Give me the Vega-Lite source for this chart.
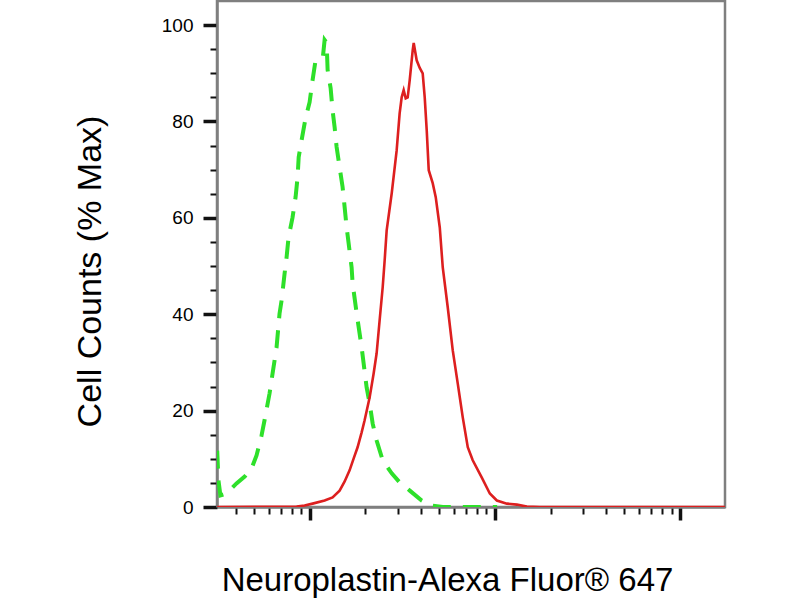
{
  "$schema": "https://vega.github.io/schema/vega-lite/v6.json",
  "width": 508,
  "height": 506,
  "autosize": "none",
  "padding": {"left": 217, "top": 1, "right": 75, "bottom": 93},
  "background": "white",
  "data": {
    "values": [
      {"series": "isotype", "x": 3.17, "y": 11.7},
      {"series": "isotype", "x": 3.22, "y": 5.5},
      {"series": "isotype", "x": 3.30, "y": 2.4},
      {"series": "isotype", "x": 3.56, "y": 2.8},
      {"series": "isotype", "x": 4.03, "y": 4.9},
      {"series": "isotype", "x": 4.46, "y": 6.3},
      {"series": "isotype", "x": 4.86, "y": 8.0},
      {"series": "isotype", "x": 5.17, "y": 10.7},
      {"series": "isotype", "x": 5.50, "y": 14.8},
      {"series": "isotype", "x": 5.71, "y": 18.0},
      {"series": "isotype", "x": 6.08, "y": 23.6},
      {"series": "isotype", "x": 6.31, "y": 27.7},
      {"series": "isotype", "x": 6.63, "y": 33.1},
      {"series": "isotype", "x": 6.88, "y": 40.1},
      {"series": "isotype", "x": 7.06, "y": 42.9},
      {"series": "isotype", "x": 7.33, "y": 48.5},
      {"series": "isotype", "x": 7.51, "y": 51.8},
      {"series": "isotype", "x": 7.70, "y": 56.0},
      {"series": "isotype", "x": 8.09, "y": 60.1},
      {"series": "isotype", "x": 8.40, "y": 64.3},
      {"series": "isotype", "x": 8.61, "y": 68.4},
      {"series": "isotype", "x": 8.73, "y": 72.6},
      {"series": "isotype", "x": 9.05, "y": 76.1},
      {"series": "isotype", "x": 9.51, "y": 80.7},
      {"series": "isotype", "x": 10.0, "y": 84.0},
      {"series": "isotype", "x": 10.38, "y": 88.6},
      {"series": "isotype", "x": 10.77, "y": 92.7},
      {"series": "isotype", "x": 11.8, "y": 93.4},
      {"series": "isotype", "x": 12.05, "y": 96.9},
      {"series": "isotype", "x": 12.36, "y": 96.3},
      {"series": "isotype", "x": 12.51, "y": 90.7},
      {"series": "isotype", "x": 12.99, "y": 86.9},
      {"series": "isotype", "x": 13.31, "y": 82.3},
      {"series": "isotype", "x": 13.65, "y": 78.8},
      {"series": "isotype", "x": 13.99, "y": 74.7},
      {"series": "isotype", "x": 14.52, "y": 70.5},
      {"series": "isotype", "x": 15.07, "y": 66.4},
      {"series": "isotype", "x": 15.46, "y": 62.2},
      {"series": "isotype", "x": 15.85, "y": 58.0},
      {"series": "isotype", "x": 16.25, "y": 54.7},
      {"series": "isotype", "x": 16.86, "y": 49.7},
      {"series": "isotype", "x": 17.07, "y": 46.4},
      {"series": "isotype", "x": 17.95, "y": 40.2},
      {"series": "isotype", "x": 19.10, "y": 33.1},
      {"series": "isotype", "x": 19.58, "y": 29.8},
      {"series": "isotype", "x": 20.32, "y": 24.8},
      {"series": "isotype", "x": 21.09, "y": 21.5},
      {"series": "isotype", "x": 21.91, "y": 17.3},
      {"series": "isotype", "x": 23.01, "y": 13.8},
      {"series": "isotype", "x": 24.81, "y": 9.7},
      {"series": "isotype", "x": 27.76, "y": 7.0},
      {"series": "isotype", "x": 30.66, "y": 5.1},
      {"series": "isotype", "x": 34.75, "y": 3.4},
      {"series": "isotype", "x": 40.3, "y": 1.35},
      {"series": "isotype", "x": 45.6, "y": 0.3},
      {"series": "isotype", "x": 52.4, "y": 0},
      {"series": "isotype", "x": 103, "y": 0},
      {"series": "Neuroplastin", "x": 3.17, "y": 0},
      {"series": "Neuroplastin", "x": 8.51, "y": 0.1},
      {"series": "Neuroplastin", "x": 9.39, "y": 0.3},
      {"series": "Neuroplastin", "x": 10.38, "y": 0.7},
      {"series": "Neuroplastin", "x": 12.05, "y": 1.35},
      {"series": "Neuroplastin", "x": 13.31, "y": 2.0},
      {"series": "Neuroplastin", "x": 14.52, "y": 3.4},
      {"series": "Neuroplastin", "x": 15.46, "y": 5.3},
      {"series": "Neuroplastin", "x": 16.44, "y": 7.6},
      {"series": "Neuroplastin", "x": 17.30, "y": 10.1},
      {"series": "Neuroplastin", "x": 18.16, "y": 12.4},
      {"series": "Neuroplastin", "x": 19.10, "y": 15.5},
      {"series": "Neuroplastin", "x": 19.82, "y": 18.0},
      {"series": "Neuroplastin", "x": 21.09, "y": 22.7},
      {"series": "Neuroplastin", "x": 22.17, "y": 27.7},
      {"series": "Neuroplastin", "x": 23.01, "y": 31.9},
      {"series": "Neuroplastin", "x": 23.88, "y": 38.7},
      {"series": "Neuroplastin", "x": 24.81, "y": 45.6},
      {"series": "Neuroplastin", "x": 25.43, "y": 51.2},
      {"series": "Neuroplastin", "x": 26.07, "y": 57.4},
      {"series": "Neuroplastin", "x": 27.76, "y": 65.1},
      {"series": "Neuroplastin", "x": 29.52, "y": 74.0},
      {"series": "Neuroplastin", "x": 30.63, "y": 81.7},
      {"series": "Neuroplastin", "x": 31.42, "y": 85.0},
      {"series": "Neuroplastin", "x": 32.21, "y": 86.5},
      {"series": "Neuroplastin", "x": 33.03, "y": 84.8},
      {"series": "Neuroplastin", "x": 33.86, "y": 85.0},
      {"series": "Neuroplastin", "x": 34.72, "y": 88.6},
      {"series": "Neuroplastin", "x": 36.04, "y": 94.8},
      {"series": "Neuroplastin", "x": 36.49, "y": 96.3},
      {"series": "Neuroplastin", "x": 37.86, "y": 92.7},
      {"series": "Neuroplastin", "x": 39.33, "y": 91.1},
      {"series": "Neuroplastin", "x": 40.80, "y": 90.0},
      {"series": "Neuroplastin", "x": 41.84, "y": 85.0},
      {"series": "Neuroplastin", "x": 42.89, "y": 78.2},
      {"series": "Neuroplastin", "x": 43.98, "y": 69.9},
      {"series": "Neuroplastin", "x": 46.21, "y": 67.2},
      {"series": "Neuroplastin", "x": 47.98, "y": 64.3},
      {"series": "Neuroplastin", "x": 50.45, "y": 58.0},
      {"series": "Neuroplastin", "x": 52.36, "y": 49.7},
      {"series": "Neuroplastin", "x": 55.72, "y": 41.4},
      {"series": "Neuroplastin", "x": 59.29, "y": 32.5},
      {"series": "Neuroplastin", "x": 63.10, "y": 25.6},
      {"series": "Neuroplastin", "x": 67.14, "y": 18.6},
      {"series": "Neuroplastin", "x": 71.46, "y": 12.4},
      {"series": "Neuroplastin", "x": 76.0, "y": 9.7},
      {"series": "Neuroplastin", "x": 85.1, "y": 6.1},
      {"series": "Neuroplastin", "x": 94.0, "y": 2.8},
      {"series": "Neuroplastin", "x": 102.6, "y": 1.35},
      {"series": "Neuroplastin", "x": 116.2, "y": 0.7},
      {"series": "Neuroplastin", "x": 131.6, "y": 0.5},
      {"series": "Neuroplastin", "x": 148.9, "y": 0.1},
      {"series": "Neuroplastin", "x": 175, "y": 0},
      {"series": "Neuroplastin", "x": 1750, "y": 0}
    ]
  },
  "encoding": {
    "x": {
      "field": "x",
      "type": "quantitative",
      "scale": {"type": "log", "domain": [3.162, 1750], "nice": false},
      "axis": {
        "values": [4, 5, 6, 7, 8, 9, 10, 20, 30, 40, 50, 60, 70, 80, 90, 100, 200, 300, 400, 500, 600, 700, 800, 900, 1000],
        "labels": false,
        "grid": false,
        "domainColor": "#7f7f7f",
        "domainWidth": 2.5,
        "tickColor": "#111111",
        "tickSize": {"condition": {"test": "datum.value == 10 || datum.value == 100 || datum.value == 1000", "value": 13}, "value": 7},
        "tickWidth": {"condition": {"test": "datum.value == 10 || datum.value == 100 || datum.value == 1000", "value": 3.5}, "value": 2},
        "title": "Neuroplastin-Alexa Fluor® 647",
        "titleFont": "Liberation Sans",
        "titleFontSize": 33,
        "titleFontWeight": "normal",
        "titleColor": "#000000",
        "titleAlign": "center",
        "titleBaseline": "alphabetic",
        "titleX": 230,
        "titleY": 83
      }
    },
    "y": {
      "field": "y",
      "type": "quantitative",
      "scale": {"domain": [0, 105], "nice": false},
      "axis": {
        "values": [0, 5, 10, 15, 20, 25, 30, 35, 40, 45, 50, 55, 60, 65, 70, 75, 80, 85, 90, 95, 100],
        "labelExpr": "datum.value % 20 === 0 ? datum.label : ''",
        "grid": false,
        "domainColor": "#7f7f7f",
        "domainWidth": 2.5,
        "tickColor": "#111111",
        "tickSize": {"condition": {"test": "datum.value % 20 === 0", "value": 14}, "value": 7},
        "tickWidth": {"condition": {"test": "datum.value % 20 === 0", "value": 3.5}, "value": 2},
        "labelFont": "Liberation Sans Narrow, Liberation Sans, Arial",
        "labelFontSize": 19,
        "labelColor": "#000000",
        "labelPadding": 10,
        "title": "Cell Counts (% Max)",
        "titleFont": "Liberation Sans",
        "titleFontSize": 34,
        "titleFontWeight": "normal",
        "titleColor": "#000000",
        "titleAngle": 270,
        "titleAlign": "center",
        "titleBaseline": "alphabetic",
        "titleX": -117,
        "titleY": 270
      }
    }
  },
  "layer": [
    {
      "transform": [{"filter": "datum.series === 'isotype'"}],
      "mark": {"type": "line", "color": "#2ee02a", "strokeWidth": 4, "strokeDash": [18, 12], "clip": true}
    },
    {
      "transform": [{"filter": "datum.series === 'Neuroplastin'"}],
      "mark": {"type": "line", "color": "#dd1f1f", "strokeWidth": 2.6, "clip": true}
    }
  ],
  "config": {
    "view": {"stroke": "#7f7f7f", "strokeWidth": 2.5}
  }
}
